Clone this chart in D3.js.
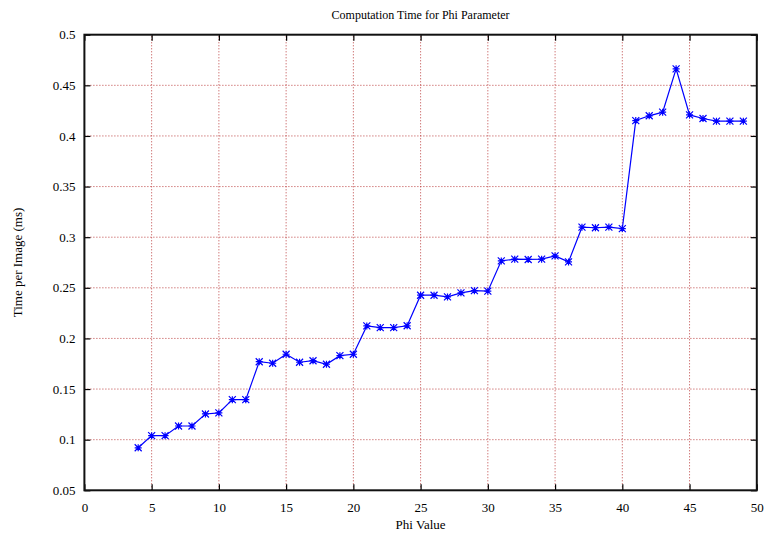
<!DOCTYPE html>
<html>
<head>
<meta charset="utf-8">
<script src="https://cdn.jsdelivr.net/npm/d3@7"></script>
<style>
  html, body { margin: 0; padding: 0; background: #fff; }
  svg { display: block; font-family: "Liberation Serif", "DejaVu Serif", serif; }
</style>
</head>
<body>
<svg id="chart" width="770" height="538"></svg>
<script>
// Phi parameter values and measured computation time per image (ms)
const phiValues = [4, 5, 6, 7, 8, 9, 10, 11, 12, 13, 14, 15, 16, 17, 18, 19, 20,
  21, 22, 23, 24, 25, 26, 27, 28, 29, 30, 31, 32, 33, 34, 35, 36, 37, 38, 39, 40,
  41, 42, 43, 44, 45, 46, 47, 48, 49];
const timeValues = [0.092, 0.104, 0.104, 0.1135, 0.1135, 0.1254, 0.1264, 0.1395, 0.1395,
  0.177, 0.1755, 0.1844, 0.1765, 0.178, 0.1745, 0.183, 0.1844,
  0.2124, 0.2107, 0.2107, 0.2125, 0.2427, 0.2427, 0.241, 0.245, 0.2472, 0.2467,
  0.2766, 0.2783, 0.278, 0.2783, 0.2815, 0.2756, 0.3099, 0.3093, 0.31, 0.3085,
  0.4152, 0.4199, 0.4235, 0.4663, 0.4208, 0.4172, 0.4146, 0.4146, 0.4146];
const xTicks = [0, 5, 10, 15, 20, 25, 30, 35, 40, 45, 50];
const yTicks = [0.05, 0.1, 0.15, 0.2, 0.25, 0.3, 0.35, 0.4, 0.45, 0.5];

const titleText = "Computation Time for Phi Parameter";
const xLabel = "Phi Value";
const yLabel = "Time per Image (ms)";

const svg = d3.select("#chart");
const margin = { left: 84.4, right: 770 - 756.8, top: 34.7, bottom: 538 - 490.3 };
const width = 770, height = 538;

const x = d3.scaleLinear().domain([0, 50]).range([margin.left, width - margin.right]);
const y = d3.scaleLinear().domain([0.05, 0.5]).range([height - margin.bottom, margin.top]);

// Dotted grid
const gridColor = "#b22222";
const grid = svg.append("g").attr("class", "grid");
grid.selectAll("line.vx")
  .data(xTicks.filter(d => d > 0 && d < 50))
  .join("line")
  .attr("x1", d => x(d)).attr("x2", d => x(d))
  .attr("y1", y(0.05)).attr("y2", y(0.5))
  .attr("stroke", gridColor).attr("stroke-width", 1)
  .attr("stroke-dasharray", "1,2").attr("opacity", 0.85);
grid.selectAll("line.hy")
  .data(yTicks.filter(d => d > 0.05 && d < 0.5))
  .join("line")
  .attr("x1", x(0)).attr("x2", x(50))
  .attr("y1", d => y(d)).attr("y2", d => y(d))
  .attr("stroke", gridColor).attr("stroke-width", 1)
  .attr("stroke-dasharray", "1,2").attr("opacity", 0.85);

// Axes with inward ticks on all four sides
const tickLen = 6;
const axisBottom = d3.axisBottom(x).tickValues(xTicks).tickSize(-tickLen).tickPadding(12)
  .tickFormat(d3.format("d"));
const axisTop = d3.axisTop(x).tickValues(xTicks).tickSize(-tickLen).tickFormat("");
const axisLeft = d3.axisLeft(y).tickValues(yTicks).tickSize(-tickLen).tickPadding(9)
  .tickFormat(d => String(+d.toFixed(2)));
const axisRight = d3.axisRight(y).tickValues(yTicks).tickSize(-tickLen).tickFormat("");

function styleAxis(g) {
  g.select(".domain").remove();
  g.selectAll(".tick line").attr("stroke", "#000").attr("stroke-width", 1.2);
  g.selectAll(".tick text").attr("fill", "#000")
    .style("font-family", '"Liberation Serif", serif').style("font-size", "13px");
}

svg.append("g").attr("transform", `translate(0,${y(0.05)})`).call(axisBottom).call(styleAxis);
svg.append("g").attr("transform", `translate(0,${y(0.5)})`).call(axisTop).call(styleAxis);
svg.append("g").attr("transform", `translate(${x(0)},0)`).call(axisLeft).call(styleAxis);
svg.append("g").attr("transform", `translate(${x(50)},0)`).call(axisRight).call(styleAxis);

// Plot frame
svg.append("rect")
  .attr("x", x(0)).attr("y", y(0.5))
  .attr("width", x(50) - x(0)).attr("height", y(0.05) - y(0.5))
  .attr("fill", "none").attr("stroke", "#111").attr("stroke-width", 2);

// Series line
const pts = phiValues.map((p, i) => [p, timeValues[i]]);
svg.append("path")
  .datum(pts)
  .attr("fill", "none")
  .attr("stroke", "#0000ff")
  .attr("stroke-width", 1.2)
  .attr("d", d3.line().x(d => x(d[0])).y(d => y(d[1])));

// Asterisk markers (plus + cross)
const r = 3.5;
const marker = svg.append("g").attr("stroke", "#0000ff").attr("stroke-width", 1.2);
marker.selectAll("path")
  .data(pts)
  .join("path")
  .attr("d", d => {
    const cx = x(d[0]), cy = y(d[1]);
    return `M${cx - r},${cy}L${cx + r},${cy}M${cx},${cy - r}L${cx},${cy + r}` +
      `M${cx - r},${cy - r}L${cx + r},${cy + r}M${cx - r},${cy + r}L${cx + r},${cy - r}`;
  });

// Titles
svg.append("text")
  .attr("x", (x(0) + x(50)) / 2).attr("y", 19)
  .attr("text-anchor", "middle")
  .style("font-size", "12px")
  .text(titleText);

svg.append("text")
  .attr("x", (x(0) + x(50)) / 2).attr("y", 529)
  .attr("text-anchor", "middle")
  .style("font-size", "13px")
  .text(xLabel);

svg.append("text")
  .attr("transform", `translate(22,${(y(0.05) + y(0.5)) / 2}) rotate(-90)`)
  .attr("text-anchor", "middle")
  .style("font-size", "13px")
  .text(yLabel);
</script>
</body>
</html>
